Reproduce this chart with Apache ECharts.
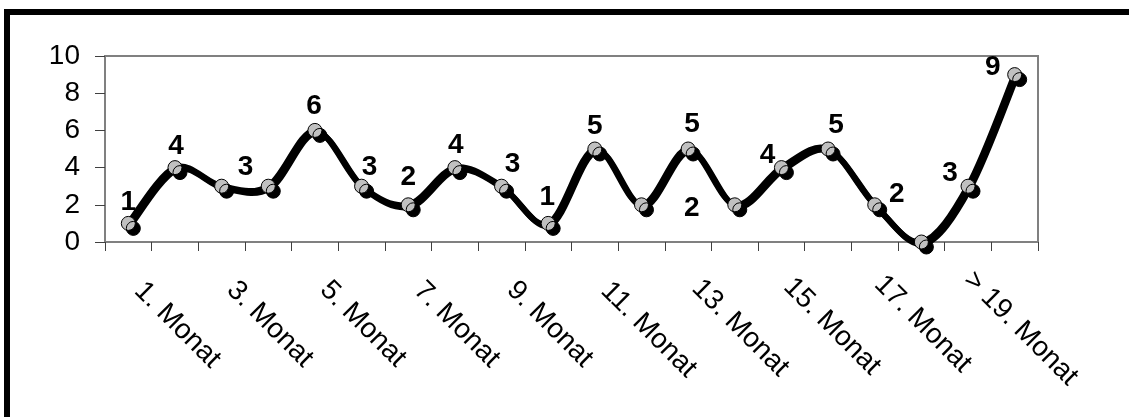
<!DOCTYPE html>
<html>
<head>
<meta charset="utf-8">
<script src="https://cdn.jsdelivr.net/npm/echarts@6/dist/echarts.min.js"></script>
<style>
  html, body { margin: 0; padding: 0; background: #fff; }
  #chart { width: 1129px; height: 417px; }
</style>
</head>
<body>
<div id="chart"></div>
<script>
// Months on the x axis (every second one is labelled)
const months = [
  '1. Monat', '2. Monat', '3. Monat', '4. Monat', '5. Monat',
  '6. Monat', '7. Monat', '8. Monat', '9. Monat', '10. Monat',
  '11. Monat', '12. Monat', '13. Monat', '14. Monat', '15. Monat',
  '16. Monat', '17. Monat', '18. Monat', '> 19. Monat', '> 20. Monat'
];

// Count per month
const counts = [1, 4, 3, 3, 6, 3, 2, 4, 3, 1, 5, 2, 5, 2, 4, 5, 2, 0, 3, 9];

// Value axis ticks
const yMin = 0;
const yMax = 10;
const yStep = 2;

// Where each value label sits relative to its marker (null = no label)
const labelOffsets = [
  [0, -21], [1, -21], [24, -19], null, [-1, -24],
  [8, -19], [0, -28], [1, -22], [11, -22], [-1, -26],
  [0, -23], null, [4, -25], [-43, 3], [-14, -12],
  [8, -24], [22, -11], null, [-18, -13], [-22, -7]
];

// Horizontal nudge (px) of the rotated month labels, per labelled month
const monthLabelShiftX = [13, 11.4, 11, 12, 11.5, 13, 8, 5, 0, -8];

const FONT = 'Arial, "Liberation Sans", sans-serif';
const BASE_MARGIN = 42;
const S2 = Math.SQRT2;

// A purely horizontal shift of a label rotated by -45deg is split into a
// shift along the text (left padding) and one across it (top/bottom padding);
// the part that cannot be done with padding goes into the shared margin.
const minShift = Math.min.apply(null, monthLabelShiftX);
const labelMargin = BASE_MARGIN + minShift;
const categoryItems = months.map((name, i) => {
  if (i % 2 !== 0) return name;
  const dx = monthLabelShiftX[i / 2];
  const along = (dx - minShift) / S2;
  const up = dx * S2 - along;
  const padTop = up < 0 ? -2 * up : 0;
  const padBottom = up > 0 ? 2 * up : 0;
  return {
    value: name,
    textStyle: { padding: [padTop, 0, padBottom, along] }
  };
});

const seriesData = counts.map((v, i) => {
  const off = labelOffsets[i];
  return {
    value: v,
    label: off
      ? { show: true, position: 'inside', offset: off }
      : { show: false }
  };
});

// Spline segment i -> i+1 (cardinal spline, control arms = 1/6 of the
// neighbour chord), positioned through the chart's own coordinate system.
function renderSegment(params, api) {
  const i = params.dataIndex;
  const n = counts.length;
  if (i >= n - 1) return null;
  const p = (k) => {
    const j = Math.max(0, Math.min(n - 1, k));
    return api.coord([j, counts[j]]);
  };
  const p0 = p(i - 1), p1 = p(i), p2 = p(i + 1), p3 = p(i + 2);
  return {
    type: 'bezierCurve',
    shape: {
      x1: p1[0], y1: p1[1],
      cpx1: p1[0] + (p2[0] - p0[0]) / 6,
      cpy1: p1[1] + (p2[1] - p0[1]) / 6,
      cpx2: p2[0] - (p3[0] - p1[0]) / 6,
      cpy2: p2[1] - (p3[1] - p1[1]) / 6,
      x2: p2[0], y2: p2[1]
    },
    style: {
      fill: null,
      stroke: '#000',
      lineWidth: 6,
      lineCap: 'round',
      shadowColor: '#000',
      shadowBlur: 0,
      shadowOffsetX: 2,
      shadowOffsetY: 2
    }
  };
}

const chart = echarts.init(document.getElementById('chart'), null, { renderer: 'canvas' });

chart.setOption({
  animation: false,
  backgroundColor: '#ffffff',
  graphic: [{
    type: 'rect',
    shape: { x: 7, y: 12, width: 1200, height: 500 },
    style: { fill: 'none', stroke: '#000', lineWidth: 6 },
    silent: true,
    z: 100
  }],
  grid: {
    left: 105, right: 91, top: 56, bottom: 175,
    show: true,
    borderColor: '#808080',
    borderWidth: 2,
    backgroundColor: 'transparent'
  },
  xAxis: {
    type: 'category',
    data: categoryItems,
    boundaryGap: true,
    axisLine: { show: true, lineStyle: { color: '#808080', width: 2 } },
    axisTick: {
      show: true, interval: 0, alignWithLabel: false, inside: false, length: 9,
      lineStyle: { color: '#404040', width: 1 }
    },
    axisLabel: {
      interval: 1,
      rotate: -45,
      margin: labelMargin,
      color: '#000',
      fontFamily: FONT,
      fontSize: 28
    },
    splitLine: { show: false }
  },
  yAxis: {
    type: 'value',
    min: yMin,
    max: yMax,
    interval: yStep,
    axisLine: { show: true, lineStyle: { color: '#808080', width: 2 } },
    axisTick: { show: true, length: 10, lineStyle: { color: '#404040', width: 1 } },
    axisLabel: {
      margin: 25,
      color: '#000',
      fontFamily: FONT,
      fontSize: 28
    },
    splitLine: { show: false }
  },
  series: [{
    type: 'custom',
    data: counts.map((v, i) => [i, v]),
    encode: { x: 0, y: 1 },
    renderItem: renderSegment,
    clip: false,
    silent: true,
    z: 2
  }, {
    type: 'line',
    data: seriesData,
    symbol: 'circle',
    symbolSize: 14,
    showAllSymbol: true,
    lineStyle: { opacity: 0, width: 0 },
    itemStyle: {
      color: '#c0c0c0',
      borderColor: '#000',
      borderWidth: 1,
      shadowColor: '#000',
      shadowBlur: 0,
      shadowOffsetX: 5,
      shadowOffsetY: 5
    },
    label: {
      color: '#000',
      fontFamily: FONT,
      fontWeight: 'bold',
      fontSize: 28
    },
    z: 3
  }]
});
</script>
</body>
</html>
